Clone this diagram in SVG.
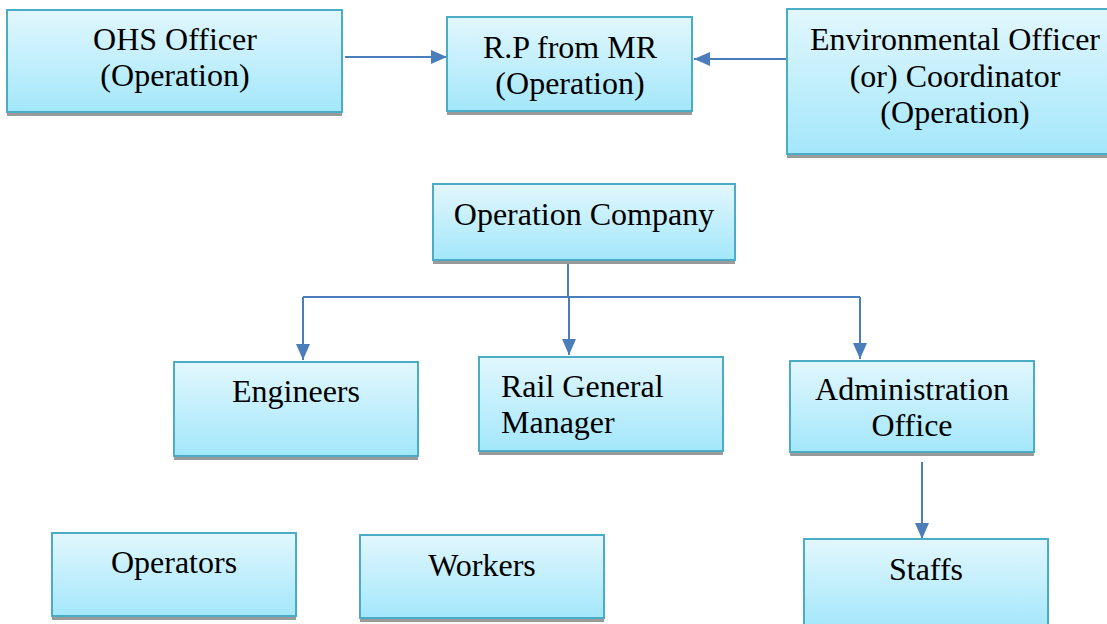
<svg xmlns="http://www.w3.org/2000/svg" width="1107" height="624" viewBox="0 0 1107 624">
  <defs>
    <linearGradient id="boxFill" x1="0" y1="0" x2="0" y2="1">
      <stop offset="0" stop-color="#e2f7fd"/>
      <stop offset="1" stop-color="#a3e7fb"/>
    </linearGradient>
    <marker id="arrow" viewBox="0 0 16 14" refX="16" refY="7" markerWidth="16" markerHeight="14" markerUnits="userSpaceOnUse" orient="auto">
      <path d="M0,0 L16,7 L0,14 Z" fill="#4a7ebb"/>
    </marker>
  </defs>
  <style>
    .shadow { fill: #9a9a9a; }
    .box { fill: url(#boxFill); stroke: #4bacc6; stroke-width: 2; }
    .label { font-family: "Liberation Serif", serif; font-size: 32px; fill: #000; text-anchor: middle; }
    .left { text-anchor: start; }
    .conn { fill: none; stroke: #4a7ebb; stroke-width: 2; }
  </style>
  <rect width="1107" height="624" fill="#ffffff"/>

  <!-- connectors -->
  <g id="connectors">
    <line class="conn" x1="345" y1="57" x2="447" y2="57" marker-end="url(#arrow)"/>
    <line class="conn" x1="787" y1="59" x2="694" y2="59" marker-end="url(#arrow)"/>
    <polyline class="conn" points="568,261 568,297"/>
    <polyline class="conn" points="303,297 860,297"/>
    <line class="conn" x1="303" y1="297" x2="303" y2="360" marker-end="url(#arrow)"/>
    <line class="conn" x1="569" y1="297" x2="569" y2="355" marker-end="url(#arrow)"/>
    <line class="conn" x1="860" y1="297" x2="860" y2="359" marker-end="url(#arrow)"/>
    <line class="conn" x1="922" y1="462" x2="922" y2="539" marker-end="url(#arrow)"/>
  </g>

  <g id="ohs-officer">
    <rect class="shadow" x="7" y="14" width="335" height="102"/>
    <rect class="box" x="7" y="10" width="335" height="102"/>
    <text class="label" x="175" y="50">OHS Officer</text>
    <text class="label" x="175" y="86">(Operation)</text>
  </g>

  <g id="rp-from-mr">
    <rect class="shadow" x="447" y="21" width="245" height="94"/>
    <rect class="box" x="447" y="17" width="245" height="94"/>
    <text class="label" x="570" y="58">R.P from MR</text>
    <text class="label" x="570" y="94">(Operation)</text>
  </g>

  <g id="environmental-officer">
    <rect class="shadow" x="787" y="13" width="336" height="145"/>
    <rect class="box" x="787" y="9" width="336" height="145"/>
    <text class="label" x="955" y="50">Environmental Officer</text>
    <text class="label" x="955" y="87">(or) Coordinator</text>
    <text class="label" x="955" y="123">(Operation)</text>
  </g>

  <g id="operation-company">
    <rect class="shadow" x="433" y="188" width="302" height="76"/>
    <rect class="box" x="433" y="184" width="302" height="76"/>
    <text class="label" x="584" y="225">Operation Company</text>
  </g>

  <g id="engineers">
    <rect class="shadow" x="174" y="366" width="244" height="94"/>
    <rect class="box" x="174" y="362" width="244" height="94"/>
    <text class="label" x="296" y="402">Engineers</text>
  </g>

  <g id="rail-general-manager">
    <rect class="shadow" x="479" y="361" width="244" height="94"/>
    <rect class="box" x="479" y="357" width="244" height="94"/>
    <text class="label left" x="501" y="397">Rail General</text>
    <text class="label left" x="501" y="433">Manager</text>
  </g>

  <g id="administration-office">
    <rect class="shadow" x="790" y="365" width="244" height="91"/>
    <rect class="box" x="790" y="361" width="244" height="91"/>
    <text class="label" x="912" y="400">Administration</text>
    <text class="label" x="912" y="436">Office</text>
  </g>

  <g id="staffs">
    <rect class="shadow" x="804" y="543" width="244" height="90"/>
    <rect class="box" x="804" y="539" width="244" height="90"/>
    <text class="label" x="926" y="580">Staffs</text>
  </g>

  <g id="operators">
    <rect class="shadow" x="52" y="537" width="244" height="83"/>
    <rect class="box" x="52" y="533" width="244" height="83"/>
    <text class="label" x="174" y="573">Operators</text>
  </g>

  <g id="workers">
    <rect class="shadow" x="360" y="539" width="244" height="83"/>
    <rect class="box" x="360" y="535" width="244" height="83"/>
    <text class="label" x="482" y="576">Workers</text>
  </g>
</svg>
